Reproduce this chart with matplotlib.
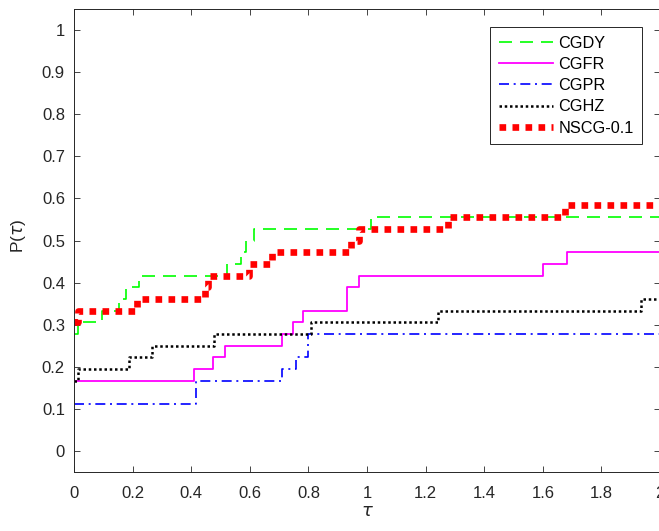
import matplotlib
matplotlib.use("Agg")
import matplotlib.pyplot as plt

plt.rcParams['font.family'] = ['Liberation Sans', 'DejaVu Sans']

# breakpoints (tau) and profile values P(tau)
cgdy_x = [0, 0.012, 0.094, 0.153, 0.177, 0.222, 0.521, 0.570, 0.587, 0.615, 1.013, 2.0]
cgdy_y = [0.2778, 0.3056, 0.3333, 0.3611, 0.3889, 0.4167, 0.4444, 0.4722, 0.5, 0.5278, 0.5556, 0.5556]

cgfr_x = [0, 0.411, 0.476, 0.515, 0.709, 0.749, 0.783, 0.933, 0.972, 1.600, 1.681, 2.0]
cgfr_y = [0.1667, 0.1944, 0.2222, 0.25, 0.2778, 0.3056, 0.3333, 0.3889, 0.4167, 0.4444, 0.4722, 0.4722]

cgpr_x = [0, 0.415, 0.709, 0.758, 0.800, 2.0]
cgpr_y = [0.1111, 0.1667, 0.1944, 0.2222, 0.2778, 0.2778]

cghz_x = [0, 0.012, 0.188, 0.265, 0.478, 0.808, 1.241, 1.935, 2.0]
cghz_y = [0.1667, 0.1944, 0.2222, 0.25, 0.2778, 0.3056, 0.3333, 0.3611, 0.3611]

nscg_x = [0, 0.012, 0.214, 0.447, 0.456, 0.597, 0.675, 0.945, 0.974, 1.278, 1.676, 2.0]
nscg_y = [0.3056, 0.3333, 0.3611, 0.3889, 0.4167, 0.4444, 0.4722, 0.5, 0.5278, 0.5556, 0.5833, 0.5833]

labels = ['CGDY', 'CGFR', 'CGPR', 'CGHZ', 'NSCG-0.1']
x_ticks = [0, 0.2, 0.4, 0.6, 0.8, 1, 1.2, 1.4, 1.6, 1.8, 2]
x_ticklabels = ['0', '0.2', '0.4', '0.6', '0.8', '1', '1.2', '1.4', '1.6', '1.8', '2']
y_ticks = [0, 0.1, 0.2, 0.3, 0.4, 0.5, 0.6, 0.7, 0.8, 0.9, 1]
y_ticklabels = ['0', '0.1', '0.2', '0.3', '0.4', '0.5', '0.6', '0.7', '0.8', '0.9', '1']

fig = plt.figure(figsize=(6.59, 5.31), dpi=100)
ax = fig.add_axes([74/659, 1 - 471.7/531, 586/659, 462.4/531])

axc = '#262626'
ax.step(cgdy_x, cgdy_y, where='post', color='#00ff00', lw=1.2, dashes=(7.8, 4.8), label=labels[0])
ax.step(cgfr_x, cgfr_y, where='post', color='#ff00ff', lw=1.3, label=labels[1])
ax.step(cgpr_x, cgpr_y, where='post', color='#0000ff', lw=1.2,
        dashes=(6.0, 2.8, 1.2, 2.8), label=labels[2])
ax.step(cghz_x, cghz_y, where='post', color='black', lw=1.8, dashes=(1, 1.1), label=labels[3])
ax.step(nscg_x, nscg_y, where='post', color='#ff0000', lw=4.8, dashes=(1, 0.95),
        dash_capstyle='butt', label=labels[4])

ax.set_xlim(0, 2)
ax.set_ylim(-0.05, 1.05)
ax.set_xticks(x_ticks)
ax.set_xticklabels(x_ticklabels)
ax.set_yticks(y_ticks)
ax.set_yticklabels(y_ticklabels)
ax.tick_params(direction='in', length=4.5, width=0.6, colors=axc, labelsize=12,
               top=True, right=True)
ax.tick_params(axis='x', pad=10)
ax.tick_params(axis='y', pad=6.5)
for s in ax.spines.values():
    s.set_color(axc)
    s.set_linewidth(0.7)

ax.set_xlabel(r'$\tau$', fontsize=13, color=axc, labelpad=2)
ax.set_ylabel(r'P($\tau$)', fontsize=12.5, color=axc)
ax.yaxis.set_label_coords(-0.078, 0.51)

leg = ax.legend(loc='upper right', bbox_to_anchor=(0.970, 0.962), borderaxespad=0,
                fontsize=11.7, handlelength=3.3, handletextpad=0.35, labelspacing=0.38,
                borderpad=0.55, fancybox=False, framealpha=1, edgecolor=axc)
leg.get_frame().set_linewidth(0.7)
for t in leg.get_texts():
    t.set_color('black')

fig.savefig('out.png', dpi=100)
